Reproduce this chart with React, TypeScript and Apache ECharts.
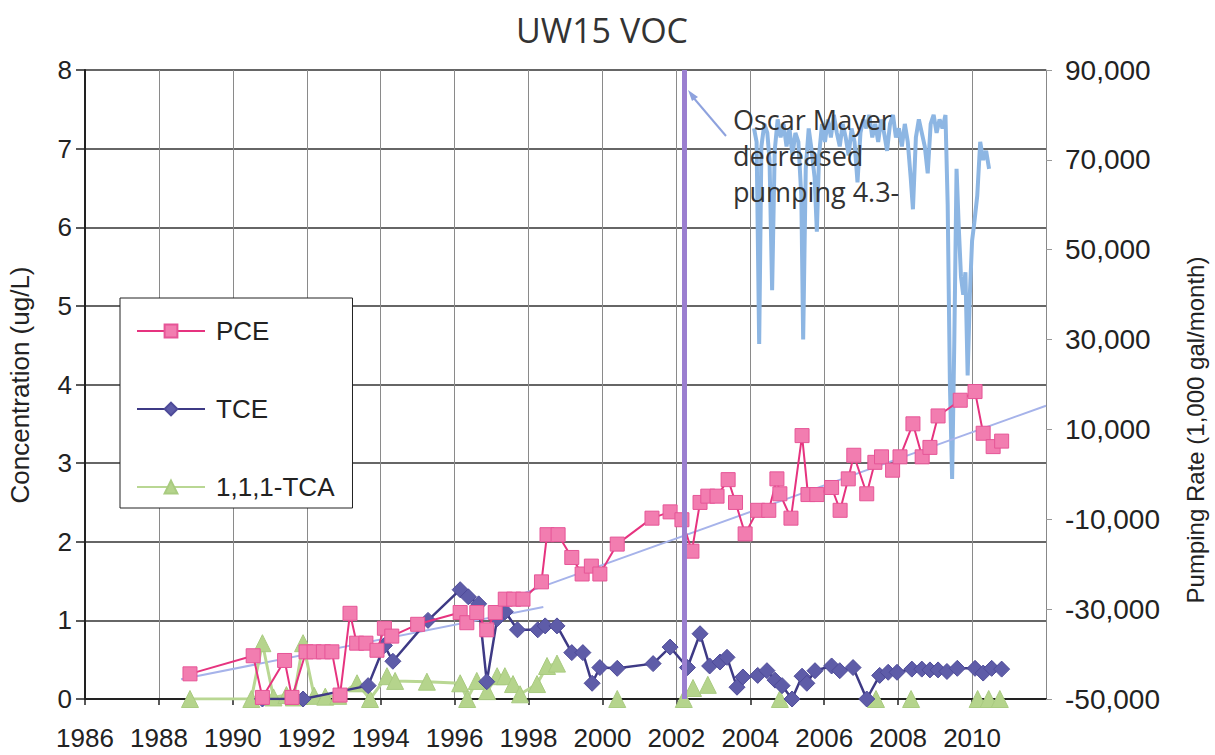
import React, { useEffect, useRef } from "react";
import * as echarts from "echarts";

// ---- data (year, value) ----
const pceData: [number, number][] = [
  [1988.84, 0.32], [1990.55, 0.55], [1990.8, 0.02], [1991.4, 0.49], [1991.6, 0.02],
  [1991.98, 0.6], [1992.2, 0.6], [1992.45, 0.6], [1992.68, 0.6], [1992.9, 0.05],
  [1993.17, 1.09], [1993.35, 0.71], [1993.6, 0.71], [1993.9, 0.62], [1994.1, 0.9],
  [1994.3, 0.8], [1995.0, 0.95], [1996.15, 1.1], [1996.33, 0.97], [1996.6, 1.1],
  [1996.87, 0.88], [1997.1, 1.1], [1997.37, 1.27], [1997.6, 1.27], [1997.85, 1.27],
  [1998.35, 1.49], [1998.5, 2.09], [1998.8, 2.09], [1999.17, 1.8], [1999.45, 1.59],
  [1999.7, 1.69], [1999.93, 1.59], [2000.4, 1.97], [2001.34, 2.3], [2001.83, 2.38],
  [2002.15, 2.28], [2002.42, 1.88], [2002.64, 2.5], [2002.85, 2.58], [2003.1, 2.58],
  [2003.4, 2.79], [2003.6, 2.5], [2003.86, 2.1], [2004.2, 2.4], [2004.5, 2.4],
  [2004.72, 2.8], [2004.8, 2.61], [2005.1, 2.3], [2005.4, 3.35], [2005.56, 2.6],
  [2005.8, 2.6], [2006.2, 2.69], [2006.43, 2.4], [2006.65, 2.8], [2006.8, 3.1],
  [2007.15, 2.61], [2007.37, 3.01], [2007.55, 3.08], [2007.85, 2.91], [2008.05, 3.08],
  [2008.4, 3.5], [2008.65, 3.08], [2008.86, 3.2], [2009.08, 3.6], [2009.68, 3.8],
  [2010.08, 3.91], [2010.3, 3.38], [2010.57, 3.21], [2010.8, 3.28],
];

const tceData: [number, number][] = [
  [1990.8, 0], [1991.9, 0], [1993.66, 0.17], [1994.1, 0.68], [1994.33, 0.48],
  [1995.28, 1.0], [1996.15, 1.39], [1996.37, 1.3], [1996.65, 1.21], [1996.87, 0.22],
  [1997.15, 1.02], [1997.37, 1.11], [1997.7, 0.88], [1998.25, 0.88], [1998.45, 0.93],
  [1998.77, 0.93], [1999.17, 0.59], [1999.47, 0.59], [1999.72, 0.2], [1999.93, 0.4],
  [2000.4, 0.39], [2001.37, 0.45], [2001.83, 0.66], [2002.3, 0.4], [2002.64, 0.83],
  [2002.9, 0.42], [2003.18, 0.47], [2003.37, 0.53], [2003.64, 0.15], [2003.8, 0.28],
  [2004.2, 0.3], [2004.45, 0.36], [2004.67, 0.24], [2004.86, 0.17], [2005.13, 0.0],
  [2005.4, 0.29], [2005.53, 0.2], [2005.75, 0.36], [2006.2, 0.42], [2006.42, 0.36],
  [2006.78, 0.4], [2007.15, 0.0], [2007.5, 0.3], [2007.73, 0.34], [2007.97, 0.34],
  [2008.37, 0.38], [2008.64, 0.38], [2008.86, 0.37], [2009.08, 0.37], [2009.32, 0.35],
  [2009.6, 0.39], [2010.08, 0.39], [2010.3, 0.33], [2010.53, 0.39], [2010.8, 0.38],
];

const tcaData: [number, number][] = [
  [1988.84, 0], [1990.5, 0], [1990.8, 0.71], [1991.1, 0.02], [1991.45, 0.05],
  [1991.65, 0.02], [1991.9, 0.71], [1992.2, 0.04], [1992.5, 0.03], [1992.85, 0.04],
  [1993.36, 0.2], [1993.71, 0], [1994.17, 0.29], [1994.39, 0.23], [1995.25, 0.22],
  [1996.15, 0.2], [1996.34, 0], [1996.6, 0.23], [1996.88, 0.1], [1997.15, 0.29],
  [1997.36, 0.29], [1997.58, 0.19], [1997.77, 0.06], [1998.23, 0.19], [1998.5, 0.42],
  [1998.77, 0.45],
];

const tcaLate: [number, number][] = [
  [2000.4, 0], [2002.2, 0], [2002.45, 0.14], [2002.85, 0.18], [2004.8, 0],
  [2007.4, 0], [2008.35, 0], [2010.15, 0], [2010.45, 0], [2010.75, 0],
];

const pumpData: [number, number][] = [
  [2004.1, 77000], [2004.17, 74000], [2004.24, 29000], [2004.3, 73000], [2004.38, 78000],
  [2004.46, 76000], [2004.52, 70000], [2004.59, 41000], [2004.66, 72000], [2004.74, 79000],
  [2004.82, 75000], [2004.9, 78000], [2004.98, 73000], [2005.06, 77000], [2005.14, 71000],
  [2005.22, 76000], [2005.3, 74000], [2005.38, 62000], [2005.43, 30000], [2005.5, 68000],
  [2005.58, 77000], [2005.66, 72000], [2005.74, 66000], [2005.8, 54000], [2005.86, 71000],
  [2005.94, 78000], [2006.02, 74000], [2006.1, 79000], [2006.18, 75000], [2006.26, 80000],
  [2006.34, 76000], [2006.42, 73000], [2006.5, 78000], [2006.58, 75000], [2006.66, 71000],
  [2006.74, 77000], [2006.82, 74000], [2006.9, 65000], [2006.98, 76000], [2007.06, 79000],
  [2007.14, 77000], [2007.22, 80000], [2007.3, 75000], [2007.38, 78000], [2007.46, 74000],
  [2007.54, 79000], [2007.62, 76000], [2007.7, 72000], [2007.78, 78000], [2007.86, 80000],
  [2007.94, 75000], [2008.02, 77000], [2008.1, 73000], [2008.18, 78000], [2008.26, 74000],
  [2008.34, 66000], [2008.4, 59000], [2008.48, 75000], [2008.56, 79000], [2008.64, 76000],
  [2008.72, 73000], [2008.8, 67000], [2008.88, 78000], [2008.96, 80000], [2009.04, 76000],
  [2009.12, 79000], [2009.2, 77000], [2009.28, 80000], [2009.34, 60000], [2009.4, 20000],
  [2009.46, -1000], [2009.52, 30000], [2009.58, 68000], [2009.64, 55000], [2009.7, 44000],
  [2009.76, 40000], [2009.82, 45000], [2009.88, 22000], [2009.94, 40000], [2010.0, 52000],
  [2010.06, 56000], [2010.14, 62000], [2010.22, 74000], [2010.3, 70000], [2010.38, 72000],
  [2010.46, 68000],
];

const trendEarly: [number, number][] = [[1988.6, 0.25], [1998.4, 1.17]];
const trendLate: [number, number][] = [[1997.9, 1.35], [2012, 3.73]];

const eventYear = 2002.2;
const legendNames = ["PCE", "TCE", "1,1,1-TCA"];

const AX_FONT = "'Liberation Sans', Arial, sans-serif";
const CAL_FONT = "'Open Sans', 'Noto Sans', sans-serif";

export default function App() {
  const ref = useRef<HTMLDivElement>(null);

  useEffect(() => {
    const chart = echarts.init(ref.current!, null, { renderer: "svg" });
    const fmt = (v: number) => v.toLocaleString("en-US");
    chart.setOption({
      animation: false,
      backgroundColor: "#ffffff",
      grid: { left: 85, top: 70, width: 961, height: 629, containLabel: false },
      legend: {
        data: legendNames,
        orient: "vertical",
        left: 120,
        top: 298,
        padding: [20, 18, 8, 16],
        itemGap: 52,
        itemWidth: 68,
        itemHeight: 16,
        backgroundColor: "#ffffff",
        borderColor: "#222",
        borderWidth: 1,
        borderRadius: 0,
        textStyle: { fontSize: 26, color: "#222", fontFamily: AX_FONT, padding: [0, 0, 0, 6] },
      },
      xAxis: {
        type: "value",
        min: 1986,
        max: 2012,
        interval: 2,
        axisLine: { show: true, onZero: false, lineStyle: { color: "#222", width: 2 } },
        axisTick: { show: true, length: 6, lineStyle: { color: "#222", width: 1.5 } },
        axisLabel: {
          fontSize: 26,
          color: "#222",
          fontFamily: AX_FONT,
          margin: 26,
          showMaxLabel: false,
          formatter: (v: number) => String(v),
        },
        splitLine: { show: true, lineStyle: { color: "#8a8a8a", width: 1 } },
      },
      yAxis: [
        {
          type: "value",
          min: 0,
          max: 8,
          interval: 1,
          position: "left",
          axisLine: { show: true, lineStyle: { color: "#222", width: 2 } },
          axisTick: { show: true, length: 9, lineStyle: { color: "#222", width: 1.5 } },
          axisLabel: { fontSize: 26, color: "#222", fontFamily: AX_FONT, margin: 13 },
          splitLine: { show: true, lineStyle: { color: "#333", width: 1.5 } },
        },
        {
          type: "value",
          min: -50000,
          max: 90000,
          interval: 20000,
          position: "right",
          axisLine: { show: true, lineStyle: { color: "#888", width: 1 } },
          axisTick: { show: true, length: 6, lineStyle: { color: "#999", width: 1 } },
          axisLabel: {
            fontSize: 28,
            color: "#222",
            fontFamily: AX_FONT,
            margin: 19,
            formatter: fmt,
          },
          splitLine: { show: false },
        },
      ],
      series: [
        {
          name: "Pumping",
          type: "line",
          yAxisIndex: 1,
          data: pumpData,
          symbol: "none",
          lineStyle: { color: "#8DB6E3", width: 4 },
          z: 2,
        },
        {
          name: "TrendEarly",
          type: "line",
          data: trendEarly,
          symbol: "none",
          lineStyle: { color: "#A6B3EA", width: 2 },
          z: 3,
        },
        {
          name: "TrendLate",
          type: "line",
          data: trendLate,
          symbol: "none",
          lineStyle: { color: "#A6B3EA", width: 2 },
          z: 3,
        },
        {
          name: "1,1,1-TCA",
          type: "line",
          data: tcaData,
          symbol: "triangle",
          symbolSize: 17,
          lineStyle: { color: "#B9D793", width: 3 },
          itemStyle: { color: "#B5D48C", borderColor: "#A9CB80", borderWidth: 1 },
          z: 4,
        },
        {
          name: "1,1,1-TCA",
          type: "scatter",
          data: tcaLate,
          symbol: "triangle",
          symbolSize: 17,
          itemStyle: { color: "#B5D48C", borderColor: "#A9CB80", borderWidth: 1, opacity: 1 },
          z: 4,
        },
        {
          name: "TCE",
          type: "line",
          data: tceData,
          symbol: "diamond",
          symbolSize: 16,
          lineStyle: { color: "#3E3A85", width: 2.5 },
          itemStyle: { color: "#5E5CA8", borderColor: "#4E4B99", borderWidth: 1 },
          z: 5,
        },
        {
          name: "PCE",
          type: "line",
          data: pceData,
          symbol: "rect",
          symbolSize: 14,
          lineStyle: { color: "#E6337F", width: 2 },
          itemStyle: { color: "#F27DB0", borderColor: "#E65597", borderWidth: 1 },
          z: 6,
          markLine: {
            silent: true,
            symbol: "none",
            label: { show: false },
            lineStyle: { color: "#9B7FD0", width: 5, type: "solid" },
            data: [{ xAxis: eventYear }],
            z: 7,
          },
        },
      ],
      graphic: [
        {
          type: "text",
          x: 602,
          y: 30,
          style: {
            text: "UW15 VOC",
            font: `34px ${CAL_FONT}`,
            fill: "#333",
            textAlign: "center",
            textVerticalAlign: "middle",
          },
        },
        {
          type: "text",
          x: 20,
          y: 385,
          rotation: Math.PI / 2,
          style: {
            text: "Concentration (ug/L)",
            font: `26px ${AX_FONT}`,
            fill: "#222",
            textAlign: "center",
            textVerticalAlign: "middle",
          },
        },
        {
          type: "text",
          x: 1195,
          y: 430,
          rotation: Math.PI / 2,
          style: {
            text: "Pumping Rate (1,000 gal/month)",
            font: `24px ${AX_FONT}`,
            fill: "#222",
            textAlign: "center",
            textVerticalAlign: "middle",
          },
        },
        {
          type: "text",
          x: 733,
          y: 101,
          style: {
            text: "Oscar Mayer\ndecreased\npumping 4.3-",
            font: `27px ${CAL_FONT}`,
            lineHeight: 36,
            fill: "#333",
          },
          z: 10,
        },
        {
          type: "line",
          shape: { x1: 692, y1: 96, x2: 726, y2: 136 },
          style: { stroke: "#8EA2DE", lineWidth: 2 },
          z: 10,
        },
        {
          type: "polygon",
          shape: { points: [[688, 90], [698, 97], [692, 101]] },
          style: { fill: "#8EA2DE" },
          z: 10,
        },
      ],
    });
    return () => chart.dispose();
  }, []);

  return (
    <div
      ref={ref}
      style={{ position: "fixed", left: 0, top: 0, width: 1215, height: 755, background: "#fff" }}
    />
  );
}
